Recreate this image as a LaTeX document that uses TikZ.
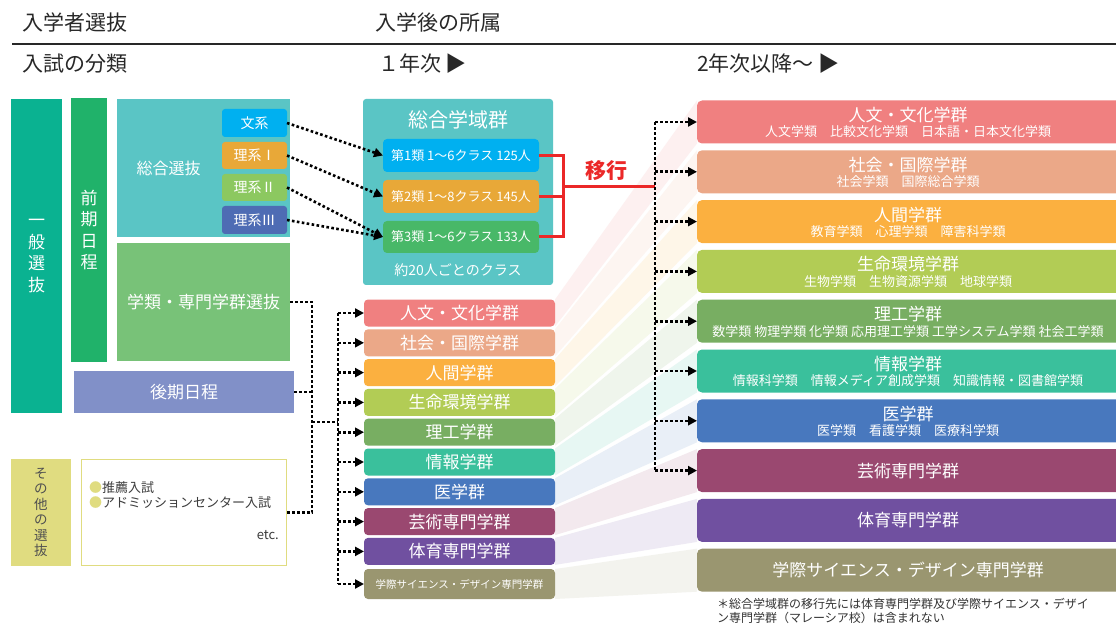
\documentclass[tikz,border=0pt]{standalone}
\usepackage{fontspec}
\setmainfont{Noto Sans CJK JP}
\usetikzlibrary{arrows.meta}
\definecolor{txtgray}{RGB}{40,40,40}
\definecolor{cIppan}{RGB}{10,178,145}
\definecolor{cZenki}{RGB}{32,178,106}
\definecolor{cSougou}{RGB}{90,197,197}
\definecolor{cBun}{RGB}{0,176,240}
\definecolor{cRi1}{RGB}{232,168,56}
\definecolor{cRi2}{RGB}{140,200,96}
\definecolor{cRi3}{RGB}{78,108,180}
\definecolor{cRui3}{RGB}{72,184,104}
\definecolor{cGakurui}{RGB}{120,194,120}
\definecolor{cKouki}{RGB}{129,144,200}
\definecolor{cSonota}{RGB}{224,220,128}
\definecolor{cRed}{RGB}{235,40,40}
\definecolor{cJinbun}{RGB}{240,128,128}
\definecolor{cShakai}{RGB}{235,168,136}
\definecolor{cNingen}{RGB}{251,176,64}
\definecolor{cSeimei}{RGB}{178,204,85}
\definecolor{cRikou}{RGB}{120,174,98}
\definecolor{cJouhou}{RGB}{58,192,156}
\definecolor{cIgaku}{RGB}{72,120,190}
\definecolor{cGeijutsu}{RGB}{154,72,112}
\definecolor{cTaiiku}{RGB}{112,80,160}
\definecolor{cGakusai}{RGB}{154,150,112}
\pgfdeclarelayer{bg}
\pgfsetlayers{bg,main}
\begin{document}
\begin{tikzpicture}[x=1pt,y=-1pt,
  blk/.style={rectangle, inner sep=0pt, outer sep=0pt, text=white, align=center},
  rblk/.style={blk, rounded corners=4pt},
  dotln/.style={line width=2.6pt, dash pattern=on 2.6pt off 2.4pt, black},
  arr/.style={dotln, -{Triangle[length=9pt,width=9pt]}},
  hdr/.style={font=\fontsize{21}{24}\selectfont, text=txtgray, anchor=west, inner sep=0pt},
  redln/.style={line width=3pt, cRed},
]
\useasboundingbox (0,0) rectangle (1116,628);

% headers
\node[hdr] (h1) at (22,23) {入学者選抜};
\node[hdr] (h2) at (375,23) {入学後の所属};
\node[hdr] (h3) at (22,64) {入試の分類};
\node[hdr] (h4) at (378,64) {１年次 ▶};
\node[hdr] (h5) at (697,64) {2年次以降〜 ▶};
\draw[line width=1.2pt, txtgray] (12,44) -- (1116,44);

% left block
\node[blk, fill=cIppan, minimum width=51pt, minimum height=314pt,
  font=\fontsize{17}{21.5}\selectfont] (ippan) at (36.5,256) {一\\般\\選\\抜};
\node[blk, fill=cZenki, minimum width=36pt, minimum height=264pt,
  font=\fontsize{17}{21.5}\selectfont] (zenki) at (89,230) {前\\期\\日\\程};
\node[blk, fill=cSougou, minimum width=173pt, minimum height=138pt] (sougou) at (203.5,168) {};
\node[blk, font=\fontsize{16}{19}\selectfont] (sougoulbl) at (168.5,168) {総合選抜};
\node[rblk, rounded corners=3pt, fill=cBun, minimum width=65pt, minimum height=28pt,
  font=\fontsize{14}{16}\selectfont] (bun) at (254.5,123) {文系};
\node[rblk, rounded corners=3pt, fill=cRi1, minimum width=65pt, minimum height=27pt,
  font=\fontsize{14}{16}\selectfont] (ri1) at (254.5,155.5) {理系Ⅰ};
\node[rblk, rounded corners=3pt, fill=cRi2, minimum width=65pt, minimum height=27pt,
  font=\fontsize{14}{16}\selectfont] (ri2) at (254.5,187.5) {理系Ⅱ};
\node[rblk, rounded corners=3pt, fill=cRi3, minimum width=65pt, minimum height=28pt,
  font=\fontsize{14}{16}\selectfont] (ri3) at (254.5,220) {理系Ⅲ};
\node[blk, fill=cGakurui, minimum width=173pt, minimum height=118pt,
  font=\fontsize{17}{20}\selectfont] (gakurui) at (203.5,302) {学類・専門学群選抜};
\node[blk, fill=cKouki, minimum width=220pt, minimum height=42pt,
  font=\fontsize{17}{20}\selectfont] (kouki) at (184,392) {後期日程};
\node[blk, fill=cSonota, minimum width=60pt, minimum height=107pt, text={rgb,255:red,80;green,80;blue,80},
  font=\fontsize{13.5}{15.5}\selectfont] (sonotaL) at (41,512.5) {そ\\の\\他\\の\\選\\抜};
\node[blk, fill=white, draw=cSonota, line width=1.5pt, minimum width=205pt, minimum height=106pt] (sonota) at (184,512.5) {};
\node[anchor=west, inner sep=0pt, text={rgb,255:red,60;green,60;blue,60}, font=\fontsize{13}{15}\selectfont] (o1) at (89,488) {\textcolor{cSonota}{●}推薦入試};
\node[anchor=west, inner sep=0pt, text={rgb,255:red,60;green,60;blue,60}, font=\fontsize{13}{15}\selectfont] (o2) at (89,503) {\textcolor{cSonota}{●}アドミッションセンター入試};
\node[anchor=east, inner sep=0pt, text={rgb,255:red,60;green,60;blue,60}, font=\fontsize{13}{15}\selectfont] (o3) at (279,535) {etc.};

% 総合学域群
\node[rblk, rounded corners=3pt, fill=cSougou, minimum width=190pt, minimum height=186pt] (gakuiki) at (458,192) {};
\node[blk, font=\fontsize{20}{23}\selectfont] (gtitle) at (458,120) {総合学域群};
\node[rblk, fill=cBun, minimum width=156pt, minimum height=33pt, font=\fontsize{13}{15}\selectfont] (s1) at (461,155.5) {第1類 1〜6クラス 125人};
\node[rblk, fill=cRi1, minimum width=156pt, minimum height=33pt, font=\fontsize{13}{15}\selectfont] (s2) at (461,196.5) {第2類 1〜8クラス 145人};
\node[rblk, fill=cRui3, minimum width=156pt, minimum height=32pt, font=\fontsize{13}{15}\selectfont] (s3) at (461,237) {第3類 1〜6クラス 133人};
\node[blk, font=\fontsize{14}{16}\selectfont] (gnote) at (458,270) {約20人ごとのクラス};

% middle list
\foreach \n/\y/\c/\t in {1/313/cJinbun/人文・文化学群, 2/342.8/cShakai/社会・国際学群,
   3/372.6/cNingen/人間学群, 4/402.4/cSeimei/生命環境学群, 5/432.2/cRikou/理工学群,
   6/462/cJouhou/情報学群, 7/491.8/cIgaku/医学群, 8/521.6/cGeijutsu/芸術専門学群,
   9/551.4/cTaiiku/体育専門学群}
  \node[rblk, fill=\c, minimum width=191pt, minimum height=27pt, font=\fontsize{17}{19}\selectfont] (m\n) at (459.5,\y) {\t};
\node[rblk, fill=cGakusai, minimum width=191pt, minimum height=30pt, font=\fontsize{10.5}{12}\selectfont] (m10) at (459.5,584) {学際サイエンス・デザイン専門学群};

% right list
\foreach \n/\y/\c in {1/122/cJinbun, 2/171.8/cShakai, 3/221.6/cNingen, 4/271.4/cSeimei,
   5/321.2/cRikou, 6/371/cJouhou, 7/420.8/cIgaku, 8/470.6/cGeijutsu, 9/520.4/cTaiiku, 10/570.2/cGakusai}
  \node[rblk, rounded corners=5pt, fill=\c, minimum width=440pt, minimum height=43pt] (r\n) at (917,\y) {};
\foreach \n/\t/\s in {1/人文・文化学群/人文学類　比較文化学類　日本語・日本文化学類,
   2/社会・国際学群/社会学類　国際総合学類,
   3/人間学群/教育学類　心理学類　障害科学類,
   4/生命環境学群/生物学類　生物資源学類　地球学類,
   5/理工学群/数学類 物理学類 化学類 応用理工学類 工学システム学類 社会工学類,
   6/情報学群/情報科学類　情報メディア創成学類　知識情報・図書館学類,
   7/医学群/医学類　看護学類　医療科学類}
{
  \node[blk, font=\fontsize{17}{19}\selectfont] (rt\n) at ([yshift=7pt]r\n.center -| 908,0) {\t};
  \node[blk, font=\fontsize{13}{15}\selectfont] (rs\n) at ([yshift=-10pt]r\n.center -| 908,0) {\s};
}
\node[blk, font=\fontsize{17}{19}\selectfont] (rt8) at (r8.center -| 908,0) {芸術専門学群};
\node[blk, font=\fontsize{17}{19}\selectfont] (rt9) at (r9.center -| 908,0) {体育専門学群};
\node[blk, font=\fontsize{17}{19}\selectfont] (rt10) at (r10.center -| 908,0) {学際サイエンス・デザイン専門学群};

\node[anchor=north west, inner sep=0pt, align=left, text={rgb,255:red,50;green,50;blue,50},
  font=\fontsize{12}{14.5}\selectfont] (foot) at (717,598) {＊総合学域群の移行先には体育専門学群及び学際サイエンス・デザイ\\ン専門学群（マレーシア校）は含まれない};

% background and faded bands
\begin{pgfonlayer}{bg}
\fill[white] (0,0) rectangle (1116,628);
\foreach \n/\c in {1/cJinbun, 2/cShakai, 3/cNingen, 4/cSeimei, 5/cRikou, 6/cJouhou,
   7/cIgaku, 8/cGeijutsu, 9/cTaiiku, 10/cGakusai}
  \fill[\c!12] (m\n.north east) -- (r\n.north west) -- (r\n.south west) -- (m\n.south east) -- cycle;
\end{pgfonlayer}

% connectors: 総合選抜 -> 総合学域群
\draw[arr] (bun.east) -- (s1.west);
\draw[arr] (ri1.east) -- (s2.west);
\draw[arr] (ri2.east) -- (s3.west);
\draw[arr] (ri3.east) -- (s3.west);

% connectors: left tree to middle list
\coordinate (busA) at (312,302);
\coordinate (busJ) at (312,422);
\coordinate (busB) at (338,422);
\draw[dotln] (gakurui.east) -- (busA) |- (sonota.east);
\draw[dotln] (kouki.east) -- (kouki.east -| busA);
\draw[dotln] (busJ) -- (busB);
\draw[dotln] (busB |- m1.west) -- (busB |- m10.west);
\foreach \n in {1,...,10}
  \draw[arr] (busB |- m\n.west) -- (m\n.west);

% 移行 bracket
\coordinate (brk) at (563,187);
\coordinate (rbus) at (655,187);
\draw[redln] (s1.east) -| (brk |- s3.east) -- (s3.east);
\draw[redln] (s2.east) -- (s2.east -| brk);
\draw[redln] (brk) -- (rbus);
\node[inner sep=0pt, text=cRed, font=\fontsize{21}{24}\selectfont\bfseries] (ikou) at (606.5,171) {移行};
\draw[dotln] (rbus |- r1.west) -- (rbus |- r8.west);
\foreach \n in {1,...,8}
  \draw[arr] (rbus |- r\n.west) -- (r\n.west);
\end{tikzpicture}
\end{document}
